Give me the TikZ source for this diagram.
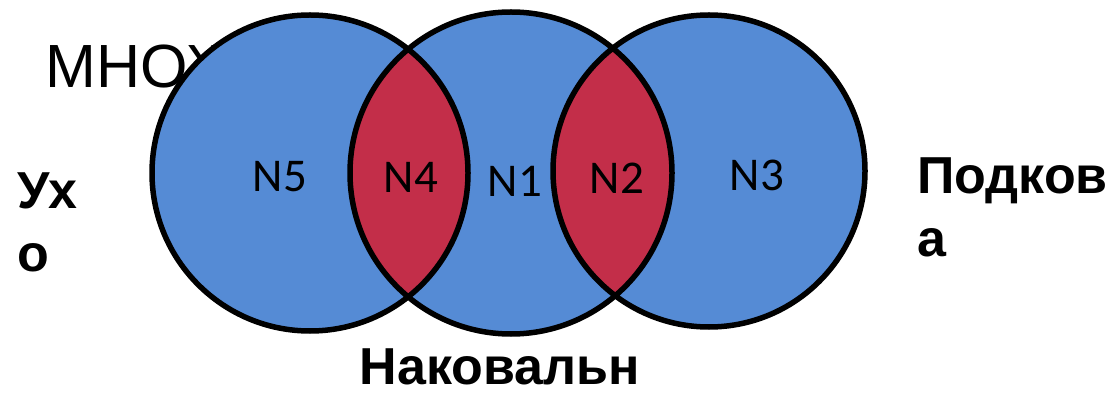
\documentclass[tikz,border=0pt]{standalone}
\usepackage{fontspec}
\setmainfont{Liberation Sans}
\newfontfamily\labelfont{Carlito}
\definecolor{setblue}{RGB}{85,139,213}
\definecolor{lensred}{RGB}{195,46,73}
\definecolor{lensshade}{RGB}{165,0,10}
\tikzstyle{ring} = [line width=5.5pt, draw=black]
\tikzstyle{setlabel} = [font=\labelfont\fontsize{47}{56}\selectfont, inner sep=0pt]
\tikzstyle{partname} = [font=\bfseries\fontsize{52}{63}\selectfont, align=left, inner sep=0pt]
\tikzstyle{heading} = [font=\fontsize{61}{72}\selectfont, inner sep=0pt]

\begin{document}
\begin{tikzpicture}[x=1pt, y=-1pt]
\useasboundingbox (0,0) rectangle (1113,395);

% Heading (partly hidden by the sets)
\node (title) [heading, anchor=base west] at (45,88) {МНОЖ};

% Sets
\coordinate (ear) at (310,173);
\coordinate (anvil) at (511,173);
\coordinate (shoe) at (709,171);
\fill [setblue] (ear) circle (158) (anvil) circle (161) (shoe) circle (156);

% Intersections
\begin{scope}
  \clip (ear) circle (158);
  \clip (anvil) circle (161);
  \fill [lensshade] (anvil) circle (161);
  \fill [lensred, shift={(2,-2)}] (anvil) circle (161);
  \fill [lensred, shift={(2,-2)}] (ear) circle (158);
\end{scope}
\begin{scope}
  \clip (shoe) circle (156);
  \clip (anvil) circle (161);
  \fill [lensshade] (anvil) circle (161);
  \fill [lensred, shift={(-2,-2)}] (anvil) circle (161);
  \fill [lensred, shift={(-2,-2)}] (shoe) circle (156);
\end{scope}
\draw [ring] (ear) circle (158) (anvil) circle (161) (shoe) circle (156);

% Labels
\node (n5) [setlabel] at (280,177) {N5};
\node (n4) [setlabel] at (411,177) {N4};
\node (n1) [setlabel] at (515,181) {N1};
\node (n2) [setlabel] at (617,178) {N2};
\node (n3) [setlabel] at (757,175) {N3};

\node (earname) [partname, anchor=north west] at (17,173) {Ух\\о};
\node (shoename) [partname, anchor=north west] at (917,158) {Подков\\а};
\node (anvilname) [partname, anchor=base] at (500,384) {Наковальн};

\end{tikzpicture}
\end{document}
